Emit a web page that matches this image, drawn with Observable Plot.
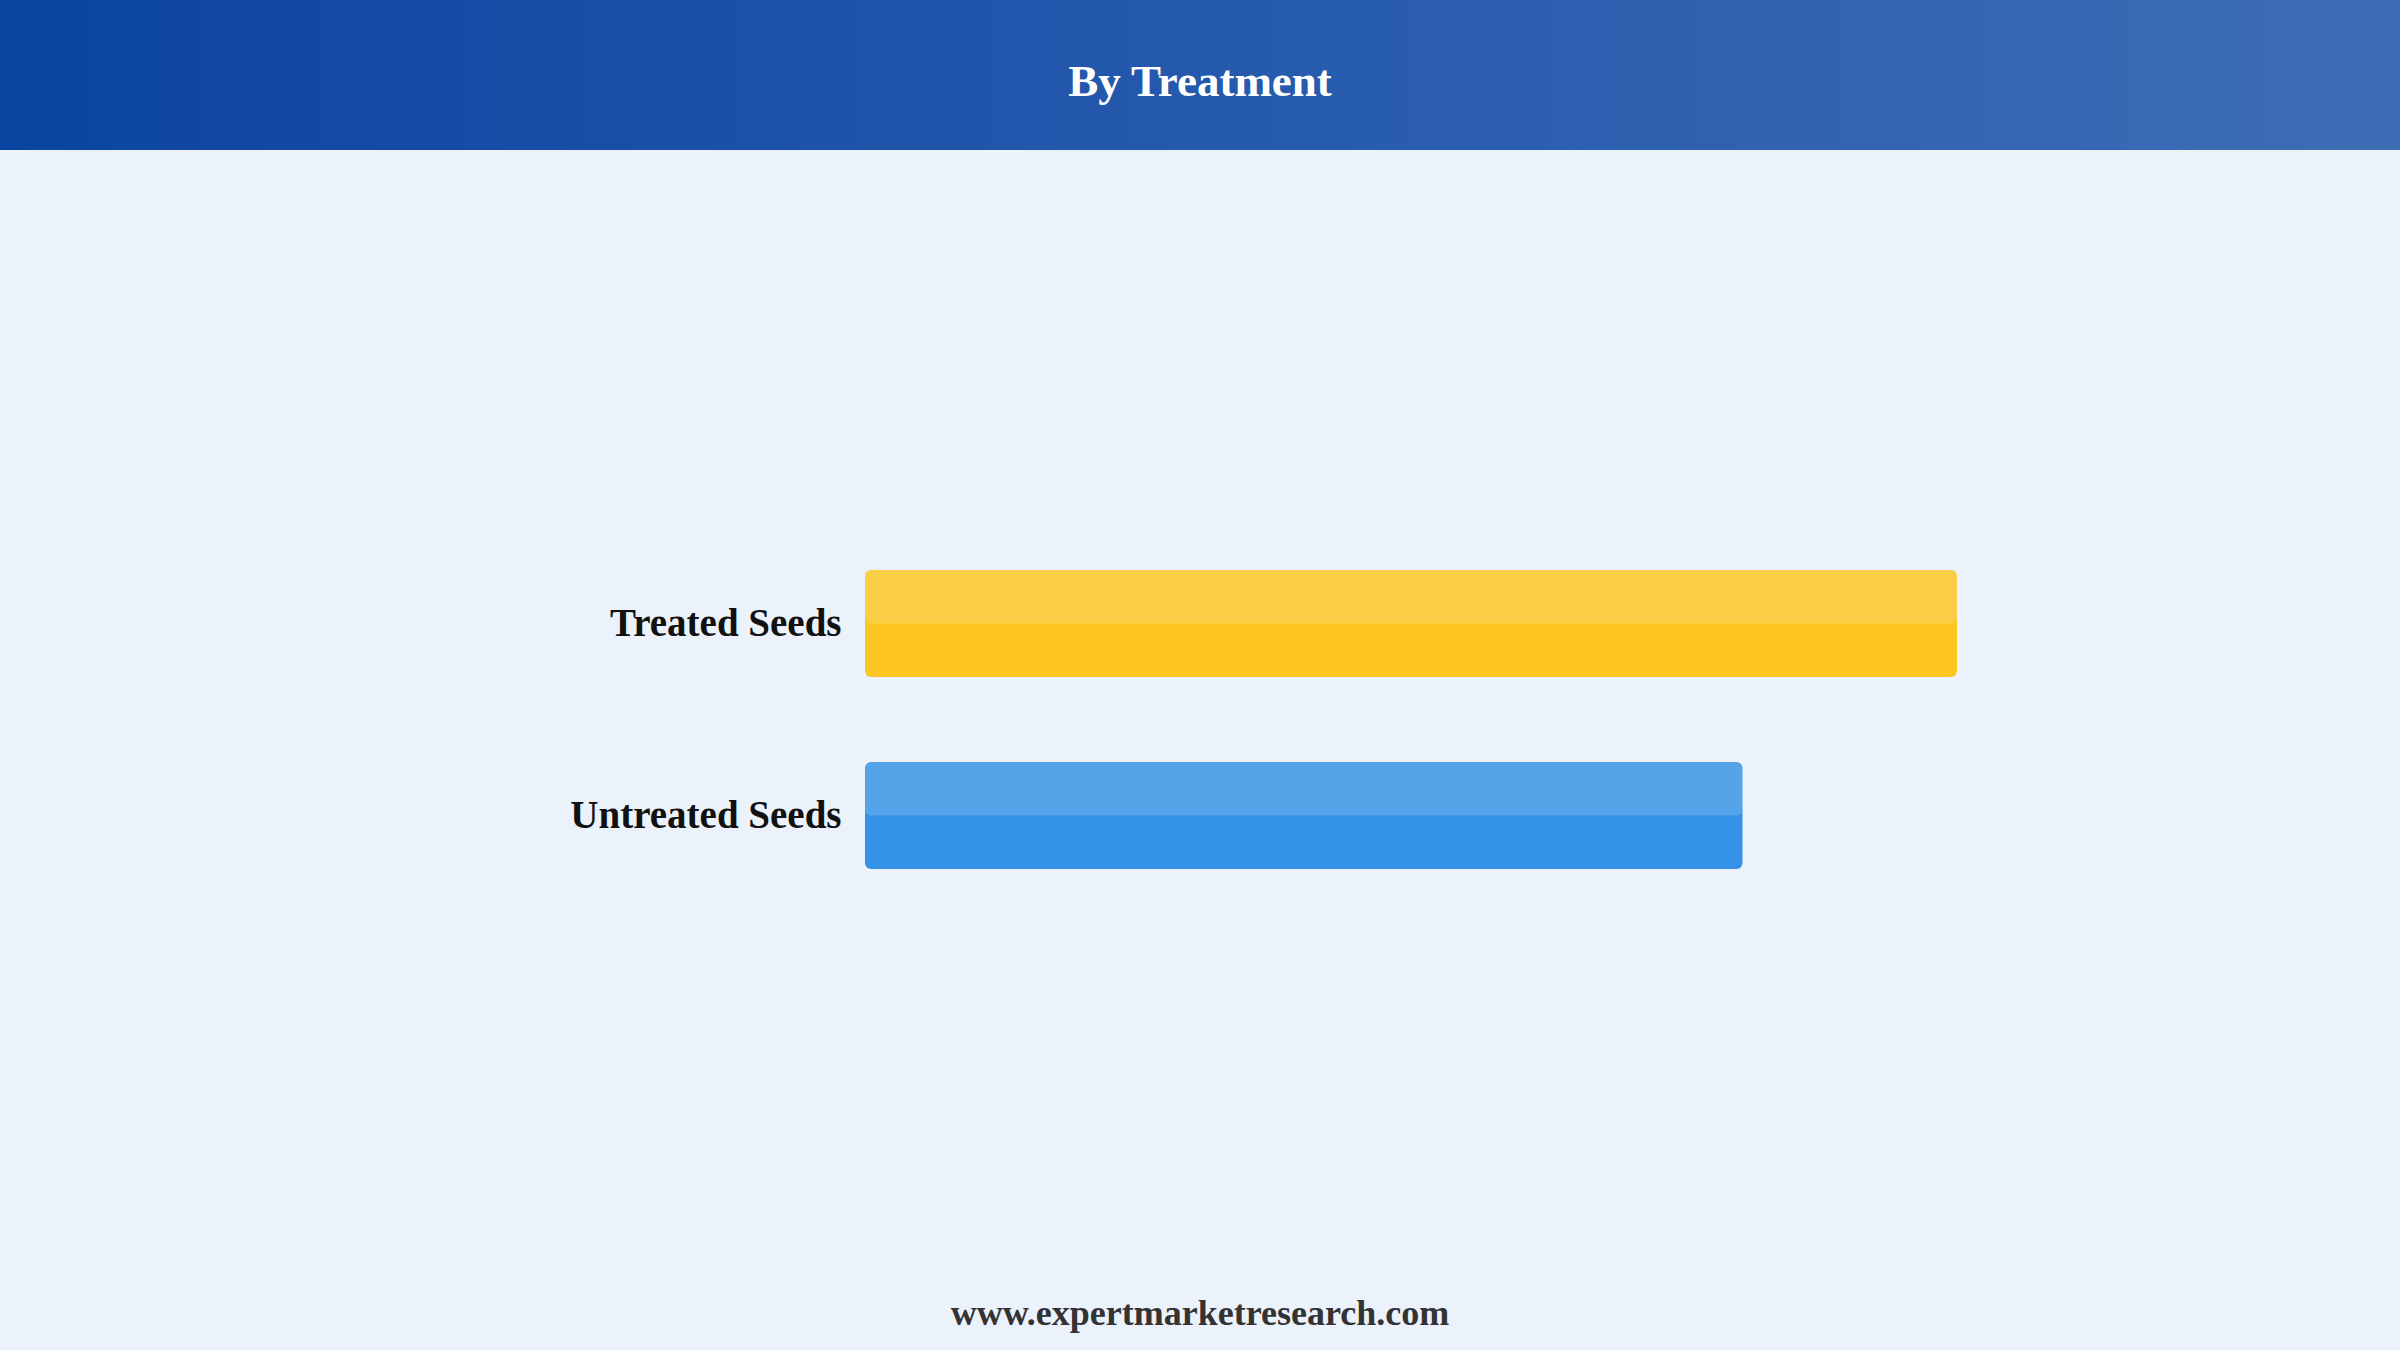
<!DOCTYPE html>
<html>
<head>
<meta charset="utf-8">
<script src="https://cdn.jsdelivr.net/npm/d3@7"></script>
<script src="https://cdn.jsdelivr.net/npm/@observablehq/plot@0.6"></script>
<style>
  html, body { margin: 0; padding: 0; width: 2400px; height: 1350px; overflow: hidden; background: #EBF2FC; }
  #header { height: 150px; width: 2400px; background: linear-gradient(to right, #0B44A0, #2257AC 45%, #3D6DB5); display: flex; align-items: center; justify-content: center; }
  #header h1 { margin: 0; padding-top: 11px; font-family: "Liberation Serif", "Times New Roman", serif; font-weight: bold; font-size: 45px; color: #ffffff; }
  #chart { height: 1120px; }
  #footer { height: 80px; display: flex; align-items: center; justify-content: center; font-family: "Liberation Serif", "Times New Roman", serif; font-weight: bold; font-size: 36px; color: #333333; padding-top: 6px; box-sizing: border-box; }
</style>
</head>
<body>
<div id="header"><h1>By Treatment</h1></div>
<div id="chart"></div>
<div id="footer">www.expertmarketresearch.com</div>
<script>
const categories = ["Treated Seeds", "Untreated Seeds"];
const values = [0.56, 0.45];
const colors = ["#FCC521", "#3392E6"];

const data = categories.map((c, i) => ({category: c, value: values[i], color: colors[i]}));

const chart = Plot.plot({
  width: 2400,
  height: 1120,
  marginLeft: 865,
  marginRight: 443,
  marginTop: 420,
  marginBottom: 400.5,
  style: {background: "transparent", fontFamily: "'Liberation Serif', 'Times New Roman', serif"},
  x: {domain: [0, 0.56], axis: null},
  y: {domain: categories, paddingInner: 0.441, paddingOuter: 0, label: null},
  marks: [
    Plot.barX(data, {x: "value", y: "category", fill: "color", rx: 6}),
    Plot.barX(data, {x: "value", y: "category", fill: "#ffffff", fillOpacity: 0.17, rx: 6, insetBottom: 53.5}),
    Plot.axisY({tickSize: 0, tickPadding: 24, fontSize: 39, fontWeight: "bold", fill: "#111111", label: null})
  ]
});
document.getElementById("chart").appendChild(chart);
</script>
</body>
</html>
